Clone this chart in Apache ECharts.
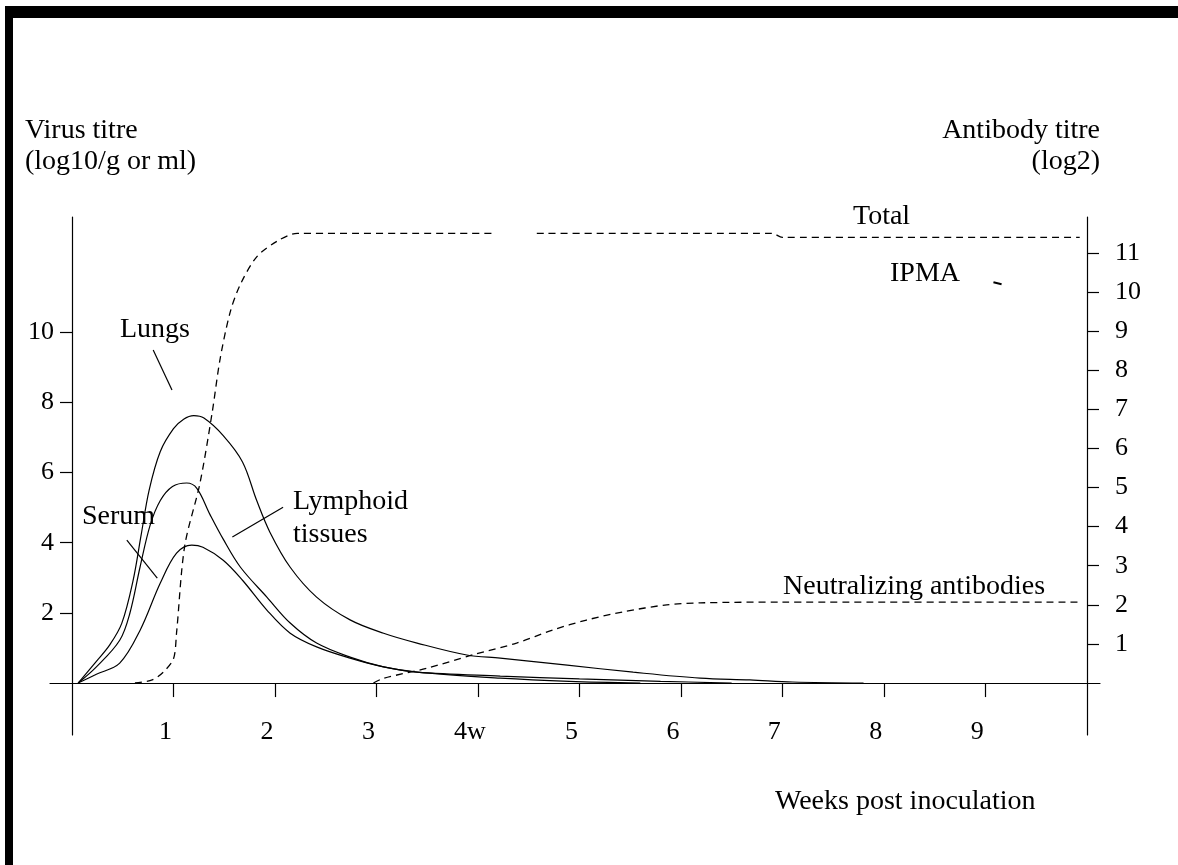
<!DOCTYPE html>
<html>
<head>
<meta charset="utf-8">
<script src="https://cdn.jsdelivr.net/npm/echarts@6/dist/echarts.min.js"></script>
<style>
html,body{margin:0;padding:0;background:#fff;}
#chart{position:absolute;left:0;top:0;width:1178px;height:865px;}
.bar{position:absolute;background:#000;}
</style>
</head>
<body>
<div id="chart"></div>
<div class="bar" style="left:5px;top:6px;width:1173px;height:12px;"></div>
<div class="bar" style="left:5px;top:6px;width:8px;height:859px;"></div>
<script>
// ---- data (weeks post inoculation) ----
const lungsWeeks = [0.06,0.24,0.37,0.49,0.6,0.68,0.76,0.87,1.0,1.1,1.2,1.3,1.49,1.68,1.82,1.95,2.15,2.41,2.74,3.07,3.40,3.89,4.22,4.88,5.53,6.19,6.68,7.1,7.8];
const lungsTitre = [0,0.62,1.08,1.7,2.9,4.2,5.5,6.6,7.25,7.52,7.62,7.55,7.05,6.3,5.2,4.3,3.3,2.45,1.8,1.42,1.14,0.8,0.71,0.51,0.31,0.14,0.09,0.03,0];

const lymphWeeks = [0.06,0.24,0.47,0.57,0.67,0.77,0.87,0.99,1.13,1.23,1.36,1.49,1.66,1.92,2.15,2.41,2.74,3.07,3.40,4.22,5.0,5.8,6.5];
const lymphTitre = [0,0.46,1.22,1.99,3.3,4.5,5.2,5.6,5.7,5.55,4.8,4.1,3.3,2.45,1.71,1.14,0.74,0.46,0.31,0.2,0.12,0.05,0];

const serumWeeks = [0.06,0.24,0.47,0.67,0.87,1.03,1.18,1.29,1.49,1.68,1.92,2.15,2.41,2.74,3.07,3.40,4.22,4.9,5.6];
const serumTitre = [0,0.25,0.57,1.5,2.85,3.7,3.93,3.87,3.5,2.93,2.08,1.42,1.03,0.71,0.46,0.31,0.14,0.05,0];

const totalWeeks = [0.62,0.79,0.9,1.0,1.03,1.11,1.26,1.38,1.46,1.56,1.66,1.82,2.02,2.22,4.17,4.38,4.58,6.9,7.0,9.93];
const totalTitre = [0,0.08,0.28,0.62,1.28,3.5,5.1,6.9,8.3,9.5,10.2,10.9,11.3,11.5,11.5,null,11.5,11.5,11.4,11.4];

const ipmaWeeks = [9.08,9.16];
const ipmaTitre = [10.25,10.2];

const neutWeeks = [2.97,3.07,3.5,3.95,4.38,4.74,5.07,5.43,5.86,6.19,7.0,9.93];
const neutTitre = [0,0.12,0.38,0.72,1.02,1.36,1.61,1.82,2.0,2.05,2.07,2.07];

const xTickValues = [1,2,3,4,5,6,7,8,9];
const xTickLabels = ['1','2','3','4w','5','6','7','8','9'];
const leftTickValues = [2,4,6,8,10];
const rightTickValues = [1,2,3,4,5,6,7,8,9,10,11];

// leader lines for curve labels (weeks, virus titre)
const leaders = [
  [[0.80,9.49],[0.985,8.35]],
  [[0.54,4.07],[0.84,2.99]],
  [[2.08,5.01],[1.58,4.16]]
];

const zip = (a,b) => a.map((x,i)=>[x,b[i]]);
const FONT = 'Liberation Serif';
const FS = 26;
const TFS = 28;

const chart = echarts.init(document.getElementById('chart'), null, {renderer:'canvas'});

const solid = {color:'#000', width:1.2, type:'solid'};
const dashed = {color:'#000', width:1.3, type:[7,5]};

function txt(text, x, y, align){
  return {type:'text', x:x, y:y, silent:true, z:100,
    style:{text:text, fill:'#000', font: TFS + 'px "' + FONT + '"', textAlign: align||'left', textVerticalAlign:'middle'}};
}

chart.setOption({
  animation:false,
  backgroundColor:'#fff',
  grid:{left:50, right:78, top:217, bottom:130},
  xAxis:{
    type:'value', min:-0.217, max:10.13,
    splitLine:{show:false},
    axisLine:{onZero:true, lineStyle:{color:'#000', width:1.2}},
    axisTick:{customValues:xTickValues, length:14, lineStyle:{color:'#000', width:1.2}},
    axisLabel:{customValues:xTickValues, margin:-16, padding:[0,16,0,0],
      formatter:(v)=>xTickLabels[xTickValues.indexOf(v)] || '',
      color:'#000', fontFamily:FONT, fontSize:FS}
  },
  yAxis:[
    {
      type:'value', min:-1.48, max:13.28, position:'left',
      splitLine:{show:false},
      axisLine:{show:true, onZero:true, lineStyle:{color:'#000', width:1.2}},
      axisTick:{show:true, customValues:leftTickValues, length:12, lineStyle:{color:'#000', width:1.2}},
      axisLabel:{customValues:leftTickValues, margin:-4, color:'#000', fontFamily:FONT, fontSize:FS}
    },
    {
      type:'value', min:-1.33, max:11.92, position:'right', offset:-13,
      splitLine:{show:false},
      axisLine:{show:true, onZero:false, lineStyle:{color:'#000', width:1.2}},
      axisTick:{show:true, customValues:rightTickValues, length:12, lineStyle:{color:'#000', width:1.2}},
      axisLabel:{customValues:rightTickValues, margin:28, color:'#000', fontFamily:FONT, fontSize:FS}
    }
  ],
  series:[
    {name:'Lungs', type:'line', yAxisIndex:0, data:zip(lungsWeeks,lungsTitre), smooth:0.35, showSymbol:false, lineStyle:solid,
      markLine:{silent:true, symbol:['none','none'], label:{show:false}, lineStyle:{color:'#000', width:1.2, type:'solid'},
        data: leaders.map(l=>[{coord:l[0]},{coord:l[1]}])}},
    {name:'Lymphoid tissues', type:'line', yAxisIndex:0, data:zip(lymphWeeks,lymphTitre), smooth:0.35, showSymbol:false, lineStyle:solid},
    {name:'Serum', type:'line', yAxisIndex:0, data:zip(serumWeeks,serumTitre), smooth:0.35, showSymbol:false, lineStyle:solid},
    {name:'Total', type:'line', yAxisIndex:1, data:zip(totalWeeks,totalTitre), smooth:0.3, showSymbol:false, connectNulls:false, lineStyle:dashed},
    {name:'IPMA', type:'line', yAxisIndex:1, data:zip(ipmaWeeks,ipmaTitre), showSymbol:false, lineStyle:{color:'#000', width:2}},
    {name:'Neutralizing antibodies', type:'line', yAxisIndex:1, data:zip(neutWeeks,neutTitre), smooth:0.3, showSymbol:false, lineStyle:dashed}
  ],
  graphic:[
    txt('Virus titre', 25, 131),
    txt('(log10/g or ml)', 25, 162),
    txt('Antibody titre', 1100, 131, 'right'),
    txt('(log2)', 1100, 162, 'right'),
    txt('Lungs', 120, 330),
    txt('Serum', 82, 517),
    txt('Lymphoid', 293, 502),
    txt('tissues', 293, 535),
    txt('Total', 853, 217),
    txt('IPMA', 890, 274),
    txt('Neutralizing antibodies', 783, 587),
    txt('Weeks post inoculation', 775, 802)
  ]
});
</script>
</body>
</html>
